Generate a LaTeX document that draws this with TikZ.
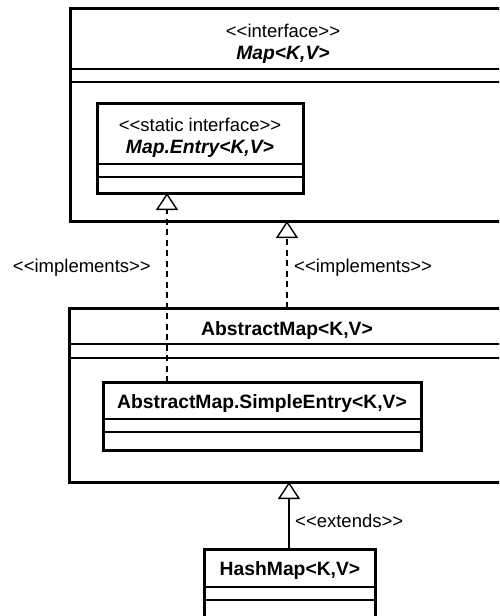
\documentclass[tikz,border=0pt]{standalone}
\usepackage{fontspec}
\setmainfont{Liberation Sans}
\usetikzlibrary{arrows.meta}

\newcommand{\classname}[1]{{\fontsize{19.3}{22}\selectfont\bfseries #1}}

\tikzset{
  classbox/.style={draw, line width=3pt, anchor=north west, inner sep=0pt, outer sep=0pt},
  sepline/.style={line width=1.4pt},
  umltext/.style={font=\fontsize{18.5}{22}\selectfont, inner sep=0pt, align=center},
  realize/.style={line width=1.4pt, dash pattern=on 6pt off 4.5pt,
    -{Triangle[open, width=22pt, length=17pt, line width=1.4pt, fill=white]}},
  inherit/.style={line width=1.4pt,
    -{Triangle[open, width=22pt, length=17pt, line width=1.4pt, fill=white]}}
}

\begin{document}
\begin{tikzpicture}[x=1pt, y=-1pt]
    \useasboundingbox (0,0) rectangle (499,616);
    \clip (0,0) rectangle (499,616);

    % Map
    \node[classbox, minimum width=433pt, minimum height=213pt] (map) at (70,8) {};
    \node[umltext] (maptitle) at (283,44) {<{}<interface>{}>\\\classname{\itshape Map<K,V>}};
    \draw[sepline] (map.west |- 0,69) -- (map.east |- 0,69);
    \draw[sepline] (map.west |- 0,82) -- (map.east |- 0,82);

    % Map.Entry
    \node[classbox, minimum width=206pt, minimum height=90pt] (mapentry) at (97,103) {};
    \node[umltext] (mapentrytitle) at (200,138) {<{}<static interface>{}>\\\classname{\itshape Map.Entry<K,V>}};
    \draw[sepline] (mapentry.west |- 0,164) -- (mapentry.east |- 0,164);
    \draw[sepline] (mapentry.west |- 0,177) -- (mapentry.east |- 0,177);

    % AbstractMap
    \node[classbox, minimum width=434pt, minimum height=174pt] (absmap) at (69,308) {};
    \node[umltext] (absmaptitle) at (287,331) {\classname{AbstractMap<K,V>}};
    \draw[sepline] (absmap.west |- 0,344) -- (absmap.east |- 0,344);
    \draw[sepline] (absmap.west |- 0,358) -- (absmap.east |- 0,358);

    % AbstractMap.SimpleEntry
    \node[classbox, minimum width=318pt, minimum height=68pt] (simpleentry) at (103,382) {};
    \node[umltext] (simpleentrytitle) at (262,404) {\classname{AbstractMap.SimpleEntry<K,V>}};
    \draw[sepline] (simpleentry.west |- 0,419) -- (simpleentry.east |- 0,419);
    \draw[sepline] (simpleentry.west |- 0,432) -- (simpleentry.east |- 0,432);

    % HashMap
    \node[classbox, minimum width=171pt, minimum height=80pt] (hashmap) at (204,549) {};
    \node[umltext] (hashmaptitle) at (290,571) {\classname{HashMap<K,V>}};
    \draw[sepline] (hashmap.west |- 0,587) -- (hashmap.east |- 0,587);
    \draw[sepline] (hashmap.west |- 0,600) -- (hashmap.east |- 0,600);

    % Relations
    \draw[realize] (simpleentry.north -| 167,0) -- (mapentry.south -| 167,0);
    \draw[realize] (absmap.north -| 287,0) -- (map.south -| 287,0);
    \draw[inherit] (hashmap.north -| 289,0) -- (absmap.south -| 289,0);

    \node[umltext, anchor=east] (impl1) at (151,268) {<{}<implements>{}>};
    \node[umltext, anchor=west] (impl2) at (294,268) {<{}<implements>{}>};
    \node[umltext, anchor=west] (ext) at (295,521) {<{}<extends>{}>};
\end{tikzpicture}
\end{document}
